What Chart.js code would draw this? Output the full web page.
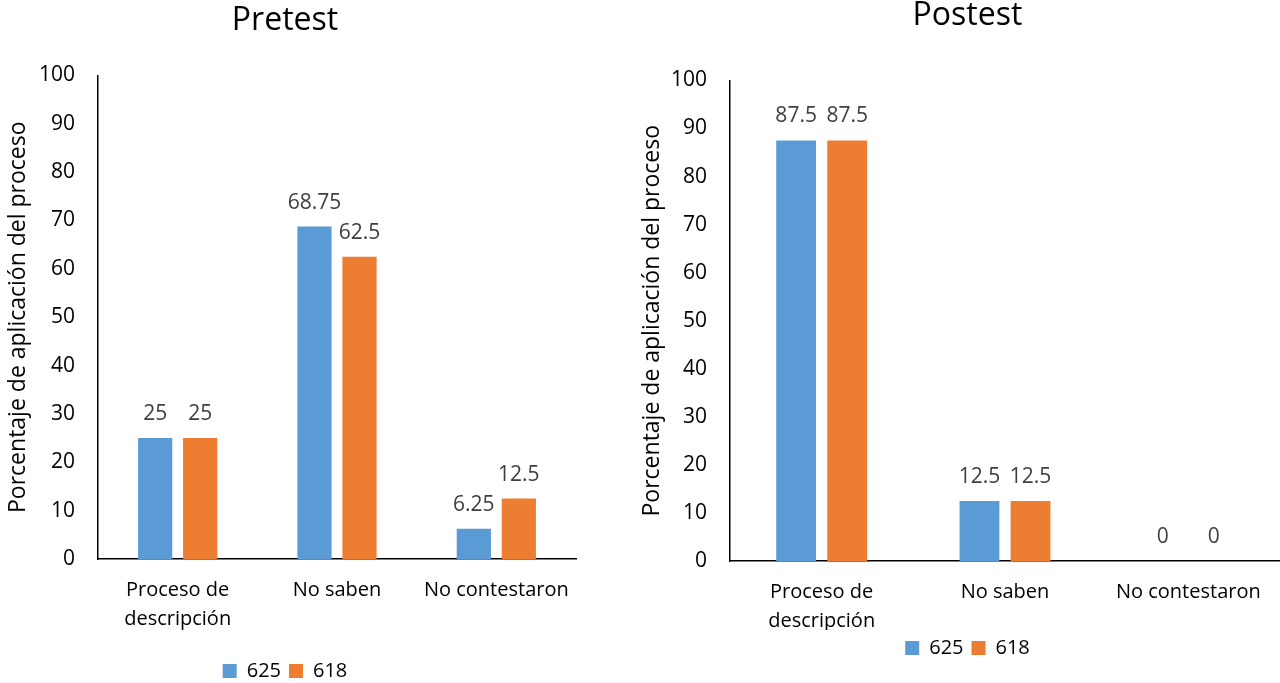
<!DOCTYPE html>
<html>
<head>
<meta charset="utf-8">
<title>Pretest / Postest</title>
<script src="https://cdn.jsdelivr.net/npm/chart.js@4"></script>
<style>
    html, body { margin: 0; padding: 0; background: #fff; overflow: hidden; }
    body { width: 1280px; height: 683px; position: relative; }
    .box { position: absolute; }
    #pre { left: -10px; top: 0; width: 590px; height: 691px; }
    #post { left: 637px; top: -3px; width: 662px; height: 671px; }
</style>
</head>
<body>
<div class="box" id="pre"><canvas id="preChart"></canvas></div>
<div class="box" id="post"><canvas id="postChart"></canvas></div>
<script>
const categories = [['Proceso de', 'descripción'], 'No saben', 'No contestaron'];
const seriesNames = ['625', '618'];
const pretest625 = [25, 68.75, 6.25];
const pretest618 = [25, 62.5, 12.5];
const postest625 = [87.5, 12.5, 0];
const postest618 = [87.5, 12.5, 0];
const yTicks = [0, 10, 20, 30, 40, 50, 60, 70, 80, 90, 100];

const blue = '#5B9BD5';
const orange = '#ED7D31';
const FONT = '"Open Sans", Lato, sans-serif';

Chart.defaults.font.family = FONT;
Chart.defaults.color = '#000';

// value labels above each bar
const barValues = {
    id: 'barValues',
    afterDatasetsDraw(chart) {
        const ctx = chart.ctx;
        ctx.save();
        ctx.font = '21px ' + FONT;
        ctx.fillStyle = '#404040';
        ctx.textAlign = 'center';
        ctx.textBaseline = 'middle';
        chart.data.datasets.forEach((ds, i) => {
            chart.getDatasetMeta(i).data.forEach((bar, j) => {
                ctx.fillText(String(ds.data[j]), bar.x, bar.y - 24);
            });
        });
        ctx.restore();
    }
};

function makeChart(id, title, a, b, opts) {
    return new Chart(document.getElementById(id), {
        type: 'bar',
        data: {
            labels: categories,
            datasets: [
                { label: seriesNames[0], data: a, backgroundColor: blue,
                  categoryPercentage: opts.catPct, barPercentage: opts.barPct },
                { label: seriesNames[1], data: b, backgroundColor: orange,
                  categoryPercentage: opts.catPct, barPercentage: opts.barPct }
            ]
        },
        options: {
            responsive: true,
            maintainAspectRatio: false,
            animation: false,
            layout: { padding: opts.padding },
            scales: {
                y: {
                    min: 0,
                    max: 100,
                    afterBuildTicks: (s) => { s.ticks = yTicks.map(v => ({ value: v })); },
                    afterFit: (s) => { s.width = opts.yWidth; },
                    grid: { display: false, drawTicks: false },
                    border: { color: '#000', width: 1.5 },
                    ticks: { color: '#000', font: { size: 21 }, padding: 23 },
                    title: {
                        display: true,
                        text: 'Porcentaje de aplicación del proceso',
                        color: '#000',
                        font: { size: opts.yTitleSize },
                        padding: { top: opts.yTitleOffset, bottom: 0 }
                    }
                },
                x: {
                    grid: { display: false, drawTicks: false },
                    border: { color: '#000', width: 1.5 },
                    ticks: { color: '#000', font: { size: 20, lineHeight: 1.45 }, padding: 17, maxRotation: 0 },
                    afterFit: (s) => {
                        s.height = opts.xHeight;
                        // let the axis run to the layout edge
                        s.paddingLeft = 0;
                        s.paddingRight = 0;
                    }
                }
            },
            plugins: {
                title: {
                    display: true,
                    text: title,
                    color: '#000',
                    font: { size: 32, weight: 'normal' },
                    padding: opts.titlePad
                },
                legend: {
                    position: 'bottom',
                    labels: { boxWidth: 14, boxHeight: 14, font: { size: 20 }, color: '#000', padding: 8 }
                },
                tooltip: { enabled: false }
            }
        },
        plugins: [barValues]
    });
}

makeChart('preChart', 'Pretest', pretest625, pretest618, {
    catPct: 0.565,
    barPct: 0.76,
    padding: { left: 4, right: 4, top: 0, bottom: 0 },
    yWidth: 104,
    yTitleSize: 23,
    yTitleOffset: 10.2,
    titlePad: { top: 2, bottom: 35 },
    xHeight: 94
});

makeChart('postChart', 'Postest', postest625, postest618, {
    catPct: 0.557,
    barPct: 0.78,
    padding: { left: 18, right: 19, top: 0, bottom: 0 },
    yWidth: 75,
    yTitleSize: 23,
    yTitleOffset: -16.8,
    titlePad: { top: 0, bottom: 45 },
    xHeight: 69
});
</script>
</body>
</html>
